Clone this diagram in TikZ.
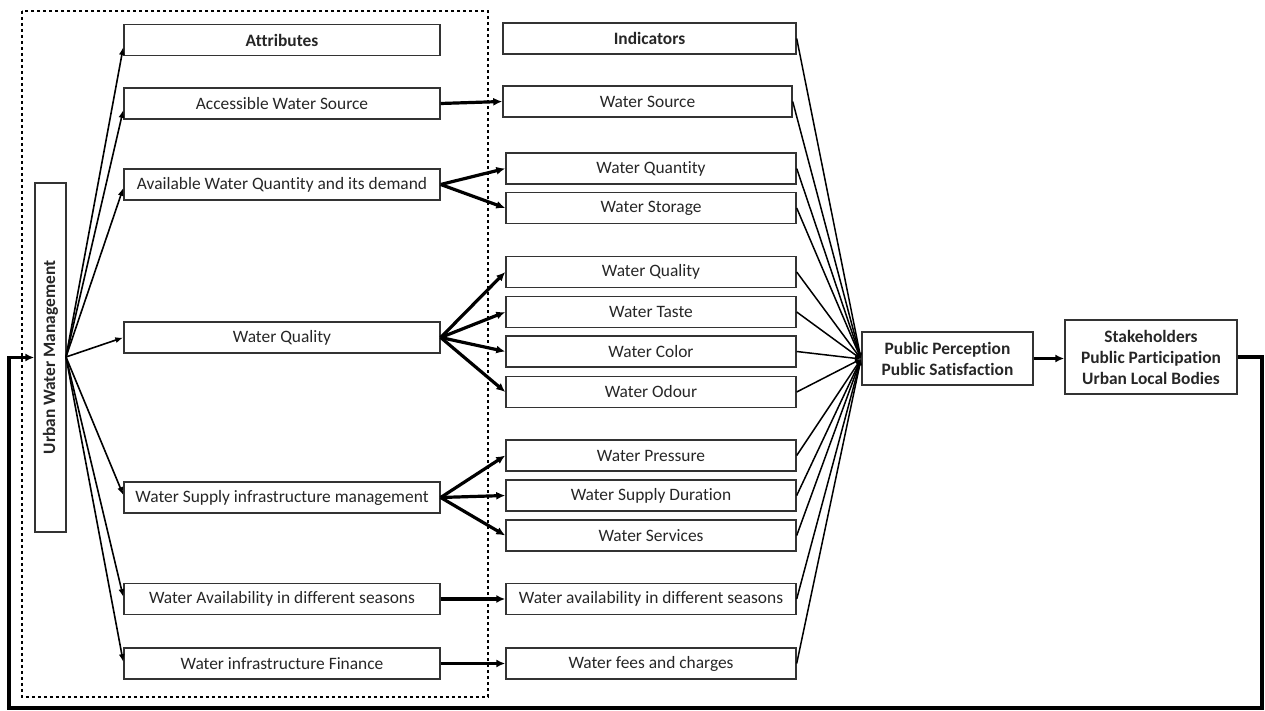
\documentclass[tikz,border=0pt]{standalone}
\usepackage{fontspec}
\setmainfont{Carlito}[Ligatures={NoCommon}]
\usetikzlibrary{arrows.meta}
\begin{document}
\begin{tikzpicture}[x=0.5pt,y=-0.5pt,
 box/.style={draw=black!80, line width=0.7pt, inner sep=0pt, minimum height=15.5pt, text=black!85, font=\fontsize{8.7}{10.5}\selectfont, align=center},
 abox/.style={box, minimum width=158pt},
 ibox/.style={box, minimum width=145pt},
 fanarrow/.style={line width=0.8pt, -{Latex[length=4pt,width=3pt]}},
 bigarrow/.style={line width=1.6pt, -{Latex[length=4.5pt,width=4pt]}},
 convline/.style={line width=0.75pt, -{Latex[length=3pt,width=2.5pt]}},
 feedback/.style={line width=1.6pt, -{Latex[length=4.5pt,width=4pt]}},
 dotbox/.style={line width=1.4pt, dash pattern=on 1.3pt off 1.7pt},
]
\useasboundingbox (0,0) rectangle (1265,711);

% dotted frame
\draw[dotbox] (22,11) rectangle (488,697);

% main node
\node[box, rotate=90, minimum width=174.5pt, font=\fontsize{8.7}{10.5}\selectfont\bfseries] (uwm) at (50.5,357.5) {Urban Water Management};

% attributes
\node[abox, font=\fontsize{8.7}{10.5}\selectfont\bfseries] (att) at (282,40) {Attributes};
\node[abox] (a1) at (282,103.5) {Accessible Water Source};
\node[abox] (a2) at (282,184.5) {Available Water Quantity and its demand};
\node[abox] (a3) at (282,337.5) {Water Quality};
\node[abox] (a4) at (282,497.5) {Water Supply infrastructure management};
\node[abox] (a5) at (282,599) {Water Availability in different seasons};
\node[abox] (a6) at (282,663.5) {Water infrastructure Finance};

% indicators
\node[box, minimum width=146.5pt, font=\fontsize{8.7}{10.5}\selectfont\bfseries] (ind) at (649.5,38.5) {Indicators};
\node[box, minimum width=144.5pt] (i1) at (647.5,101.5) {Water Source};
\node[ibox] (i2) at (651,168.5) {Water Quantity};
\node[ibox] (i3) at (651,208) {Water Storage};
\node[ibox] (i4) at (651,272) {Water Quality};
\node[ibox] (i5) at (651,312) {Water Taste};
\node[ibox] (i6) at (651,351.5) {Water Color};
\node[ibox] (i7) at (651,392) {Water Odour};
\node[ibox] (i8) at (651,455.5) {Water Pressure};
\node[ibox] (i9) at (651,495.5) {Water Supply Duration};
\node[ibox] (i10) at (651,535.5) {Water Services};
\node[ibox] (i11) at (651,599) {Water availability in different seasons};
\node[ibox] (i12) at (651,663.5) {Water fees and charges};

% right boxes
\node[box, minimum width=85.5pt, minimum height=26.5pt, font=\fontsize{8.7}{10.5}\selectfont\bfseries] (pp) at (947.5,358.5) {Public Perception\\Public Satisfaction};
\node[box, minimum width=86pt, minimum height=37pt, font=\fontsize{8.7}{10.5}\selectfont\bfseries] (sh) at (1151,357) {Stakeholders\\Public Participation\\Urban Local Bodies};

% fan from UWM
\coordinate (fan) at (66,357);
\draw[fanarrow] (fan) -- ([yshift=-3.5pt]att.west);
\draw[fanarrow] (fan) -- ([yshift=-3.2pt]a1.west);
\draw[fanarrow] (fan) -- ([yshift=-1.7pt]a2.west);
\draw[fanarrow] (fan) -- (a3.west);
\draw[fanarrow] (fan) -- ([yshift=1.2pt]a4.west);
\draw[fanarrow] (fan) -- ([yshift=1pt]a5.west);
\draw[fanarrow] (fan) -- ([yshift=0.7pt]a6.west);

% attributes -> indicators
\draw[bigarrow] (a1.east) -- (i1.west);
\draw[bigarrow] (a2.east) -- (i2.west);
\draw[bigarrow] (a2.east) -- (i3.west);
\draw[bigarrow] (a3.east) -- (i4.west);
\draw[bigarrow] (a3.east) -- (i5.west);
\draw[bigarrow] (a3.east) -- (i6.west);
\draw[bigarrow] (a3.east) -- (i7.west);
\draw[bigarrow] (a4.east) -- (i8.west);
\draw[bigarrow] (a4.east) -- (i9.west);
\draw[bigarrow] (a4.east) -- (i10.west);
\draw[bigarrow] (a5.east) -- (i11.west);
\draw[bigarrow] (a6.east) -- (i12.west);

% indicators -> public perception
\coordinate (conv) at (861,359);
\foreach \n in {ind,i1,i2,i3,i4,i5,i6,i7,i8,i9,i10,i11,i12}
  \draw[convline] (\n.east) -- (conv);

% perception -> stakeholders
\draw[bigarrow] (pp.east) -- (pp.east -| sh.west);

% feedback loop
\coordinate (fr) at (1262,708);
\coordinate (fl) at (9,708);
\draw[feedback] (sh.east) -- (sh.east -| fr) -- (fr) -- (fl) -- (fl |- uwm.north) -- (uwm.north);
\end{tikzpicture}
\end{document}
